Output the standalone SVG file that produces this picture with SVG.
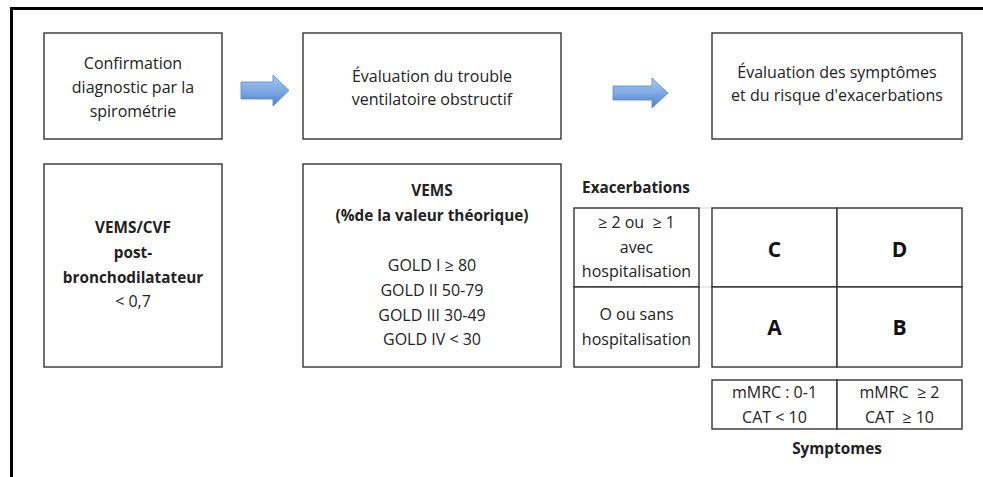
<svg xmlns="http://www.w3.org/2000/svg" width="983" height="477" viewBox="0 0 983 477">
<style>
  .box{fill:#fff;stroke:#333;stroke-width:1.4}
  .t{font-family:"Open Sans","Liberation Sans",sans-serif;font-size:16px;fill:#222;text-anchor:middle}
  .b{font-weight:bold;font-size:15.3px}
  .big{font-family:"Open Sans","Liberation Sans",sans-serif;font-size:21px;font-weight:bold;fill:#111;text-anchor:middle}
  .arrow{fill:url(#blue);stroke:#5a86c4;stroke-width:0.8}
  .link{stroke:#d4d4d4;stroke-width:1;fill:none}
</style>
<defs>
  <linearGradient id="blue" x1="0" y1="0" x2="0" y2="1">
    <stop offset="0" stop-color="#a9c8f0"/>
    <stop offset="0.5" stop-color="#7ea9e4"/>
    <stop offset="1" stop-color="#4f82c8"/>
  </linearGradient>
</defs>
<rect width="983" height="477" fill="#fff"/>
<g id="frame">
  <line x1="10" y1="8.5" x2="983" y2="8.5" stroke="#000" stroke-width="3"/>
  <line x1="11.5" y1="7" x2="11.5" y2="477" stroke="#000" stroke-width="3"/>
</g>

<g id="step1">
  <rect class="box" x="44" y="33" width="178" height="106"/>
  <text class="t" x="133" y="69">Confirmation</text>
  <text class="t" x="133" y="93">diagnostic par la</text>
  <text class="t" x="133" y="117">spirométrie</text>
</g>
<g id="step2">
  <rect class="box" x="303" y="33" width="258" height="106"/>
  <text class="t" x="432" y="82">Évaluation du trouble</text>
  <text class="t" x="432" y="105">ventilatoire obstructif</text>
</g>
<g id="step3">
  <rect class="box" x="712" y="33" width="250" height="106"/>
  <text class="t" x="837" y="78">Évaluation des symptômes</text>
  <text class="t" x="837" y="101">et du risque d'exacerbations</text>
</g>

<g id="connectors">
  <path class="arrow" d="M241,82 L273,82 L273,75 L289,90.5 L273,106 L273,99 L241,99 Z"/>
  <path class="arrow" d="M613,86 L652,86 L652,78 L668,93 L652,108 L652,100 L613,100 Z"/>
  <line class="link" x1="699" y1="208" x2="712" y2="208"/>
  <line class="link" x1="699" y1="287" x2="712" y2="287"/>
</g>

<g id="vems-cvf">
  <rect class="box" x="44" y="164" width="178" height="203"/>
  <text class="t b" x="133" y="233">VEMS/CVF</text>
  <text class="t b" x="133" y="258">post-</text>
  <text class="t b" x="133" y="283">bronchodilatateur</text>
  <text class="t" x="133" y="307">&lt; 0,7</text>
</g>
<g id="vems">
  <rect class="box" x="303" y="164" width="258" height="203"/>
  <text class="t b" x="432" y="196">VEMS</text>
  <text class="t b" x="432" y="221">(%de la valeur théorique)</text>
  <text class="t" x="432" y="271">GOLD I ≥ 80</text>
  <text class="t" x="432" y="296">GOLD II 50-79</text>
  <text class="t" x="432" y="321">GOLD III 30-49</text>
  <text class="t" x="432" y="345">GOLD IV &lt; 30</text>
</g>

<g id="exacerbations">
  <text class="t b" x="636" y="193">Exacerbations</text>
  <rect class="box" x="574" y="208" width="125" height="79"/>
  <rect class="box" x="574" y="287" width="125" height="80"/>
  <text class="t" x="636.5" y="228" xml:space="preserve">≥ 2 ou  ≥ 1</text>
  <text class="t" x="636.5" y="253">avec</text>
  <text class="t" x="636.5" y="277">hospitalisation</text>
  <text class="t" x="636.5" y="320">O ou sans</text>
  <text class="t" x="636.5" y="345">hospitalisation</text>
</g>

<g id="cell-C">
  <rect class="box" x="712" y="208" width="125" height="79"/>
  <text class="big" x="774.5" y="257">C</text>
</g>
<g id="cell-D">
  <rect class="box" x="837" y="208" width="125" height="79"/>
  <text class="big" x="899.5" y="257">D</text>
</g>
<g id="cell-A">
  <rect class="box" x="712" y="287" width="125" height="80"/>
  <text class="big" x="774.5" y="335">A</text>
</g>
<g id="cell-B">
  <rect class="box" x="837" y="287" width="125" height="80"/>
  <text class="big" x="899.5" y="335">B</text>
</g>

<g id="symptomes">
  <rect class="box" x="712" y="380" width="125" height="49"/>
  <rect class="box" x="837" y="380" width="125" height="49"/>
  <text class="t" x="774.5" y="398">mMRC : 0-1</text>
  <text class="t" x="774.5" y="423">CAT &lt; 10</text>
  <text class="t" x="899.5" y="398" xml:space="preserve">mMRC  ≥ 2</text>
  <text class="t" x="899.5" y="423" xml:space="preserve">CAT  ≥ 10</text>
  <text class="t b" x="837" y="454">Symptomes</text>
</g>
</svg>
